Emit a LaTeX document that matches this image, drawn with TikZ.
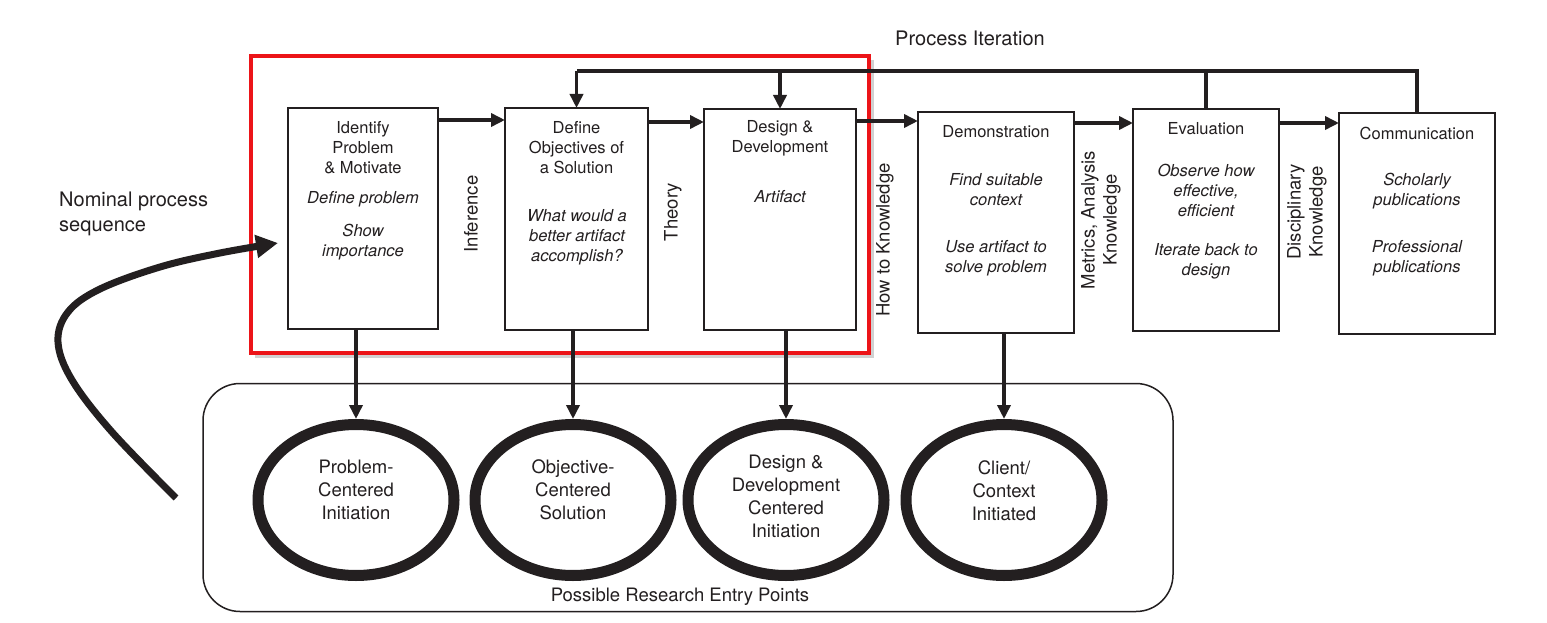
\documentclass[tikz,border=0pt]{standalone}
\usepackage{fontspec}
\setmainfont{TeX Gyre Heros}
\usetikzlibrary{arrows.meta,shapes.geometric,calc}
\definecolor{ink}{RGB}{35,31,32}
\definecolor{redframe}{RGB}{236,20,24}
\begin{document}
\begin{tikzpicture}[x=1pt,y=-1pt,
  box/.style={draw=ink, line width=1.8pt, rectangle, inner sep=0pt, outer sep=0pt},
  ent/.style={ellipse, draw=ink, line width=11pt, minimum width=196pt, minimum height=151pt, inner sep=0pt},
  arr/.style={draw=ink, line width=3.5pt, -{Triangle[length=14pt,width=13pt]}},
  plainline/.style={draw=ink, line width=3.5pt},
  btext/.style={inner sep=0pt, align=center, text=ink, font=\fontsize{16.5}{20}\selectfont},
  bital/.style={btext, font=\fontsize{16.5}{20}\selectfont\itshape},
  rlab/.style={inner sep=0pt, align=center, text=ink, rotate=90, font=\fontsize{18.5}{22}\selectfont},
  etext/.style={inner sep=0pt, align=center, text=ink, font=\fontsize{18.5}{23}\selectfont},
]
\useasboundingbox (0,0) rectangle (1547,623);
\fill[white] (0,0) rectangle (1547,623);

% red highlight frame (with faint shadow on right and bottom)
\draw[black!18, line width=3pt] (872.5,60) -- (872.5,356.5) -- (255,356.5);
\draw[redframe, line width=4pt] (251,56) rectangle (869,353);

% process boxes
\node[box, minimum width=150pt, minimum height=221pt] (b1) at (363,218.5) {};
\node[box, minimum width=143pt, minimum height=222pt] (b2) at (576.5,219) {};
\node[box, minimum width=152pt, minimum height=221pt] (b3) at (780,219.5) {};
\node[box, minimum width=156pt, minimum height=221pt] (b4) at (996,222.5) {};
\node[box, minimum width=146pt, minimum height=222pt] (b5) at (1206,220) {};
\node[box, minimum width=156pt, minimum height=221pt] (b6) at (1417,223.5) {};

% box texts
\node[btext] at (363,148) {Identify\\Problem\\\& Motivate};
\node[bital] at (363,199) {Define problem};
\node[bital] at (363,242) {Show\\importance};

\node[btext] at (576.5,148) {Define\\Objectives of\\a Solution};
\node[bital] at (577,237) {What would a\\better artifact\\accomplish?};

\node[btext] at (780,138) {Design \&\\Development};
\node[bital] at (780,197) {Artifact};

\node[btext] at (996,132) {Demonstration};
\node[bital] at (996,190) {Find suitable\\context};
\node[bital] at (996,258) {Use artifact to\\solve problem};

\node[btext] at (1206,129) {Evaluation};
\node[bital] at (1206,190) {Observe how\\effective,\\efficient};
\node[bital] at (1206,261) {Iterate back to\\design};

\node[btext] at (1417,133) {Communication};
\node[bital] at (1417,191) {Scholarly\\publications};
\node[bital] at (1417,258) {Professional\\publications};

% rotated labels between boxes
\node[rlab] at (471,214) {Inference};
\node[rlab] at (673,212) {Theory};
\node[rlab] at (885,240) {How to Knowledge};
\node[rlab] at (1101,220) {Metrics, Analysis\\Knowledge};
\node[rlab] at (1307,212) {Disciplinary\\Knowledge};

% sequence arrows
\coordinate (r12) at (0,120);
\coordinate (r23) at (0,122);
\coordinate (r34) at (0,121);
\coordinate (r45) at (0,123);
\coordinate (r56) at (0,123);
\draw[arr] (b1.east |- r12) -- (b2.west |- r12);
\draw[arr] (b2.east |- r23) -- (b3.west |- r23);
\draw[arr] (b3.east |- r34) -- (b4.west |- r34);
\draw[arr] (b4.east |- r45) -- (b5.west |- r45);
\draw[arr] (b5.east |- r56) -- (b6.west |- r56);

% process iteration loop
\node[inner sep=0pt, text=ink, font=\fontsize{20}{24}\selectfont] (pi) at (970,38.5) {Process Iteration};
\coordinate (top) at (0,71);
\draw[plainline, line join=miter] (b6.north) -- (b6.north |- top) -- (b2.north |- top);
\draw[plainline] (b5.north |- top) -- (b5.north);
\draw[arr] (b2.north |- top) -- (b2.north);
\draw[arr] (b3.north |- top) -- (b3.north);

% entry points
\node[draw=ink, line width=1.5pt, rounded corners=37pt, minimum width=970pt, minimum height=228pt, inner sep=0pt] (entry) at (688,497.5) {};
\node[inner sep=0pt, text=ink, font=\fontsize{18.5}{22}\selectfont] at (680,597) {Possible Research Entry Points};

\node[ent] (e1) at (356,500) {};
\node[ent] (e2) at (573,500) {};
\node[ent] (e3) at (786,500) {};
\node[ent] (e4) at (1004,500) {};

\node[etext] at ($(e1)+(0,-10)$) {Problem-\\Centered\\Initiation};
\node[etext] at ($(e2)+(0,-10)$) {Objective-\\Centered\\Solution};
\node[etext] at ($(e3)+(0,-4)$) {Design \&\\Development\\Centered\\Initiation};
\node[etext] at ($(e4)+(0,-9)$) {Client/\\Context\\Initiated};

\draw[arr] (e1.north |- b1.south) -- (e1.north);
\draw[arr] (e2.north |- b2.south) -- (e2.north);
\draw[arr] (e3.north |- b3.south) -- (e3.north);
\draw[arr] (e4.north |- b4.south) -- (e4.north);

% nominal process sequence
\node[anchor=west, inner sep=0pt, align=left, text=ink, font=\fontsize{20}{25}\selectfont] (nps) at (59,214) {Nominal process\\sequence};
\coordinate (nstart) at (176,498);
\coordinate (ntip) at (278,243);
\draw[ink, line width=7pt, -{Triangle[length=22pt,width=22pt]}]
  plot[smooth, tension=0.6] coordinates {(nstart) (112,432) (72,380) (58,342) (68,312) (100,289) (160,267) (220,253) (ntip)};
\end{tikzpicture}
\end{document}
